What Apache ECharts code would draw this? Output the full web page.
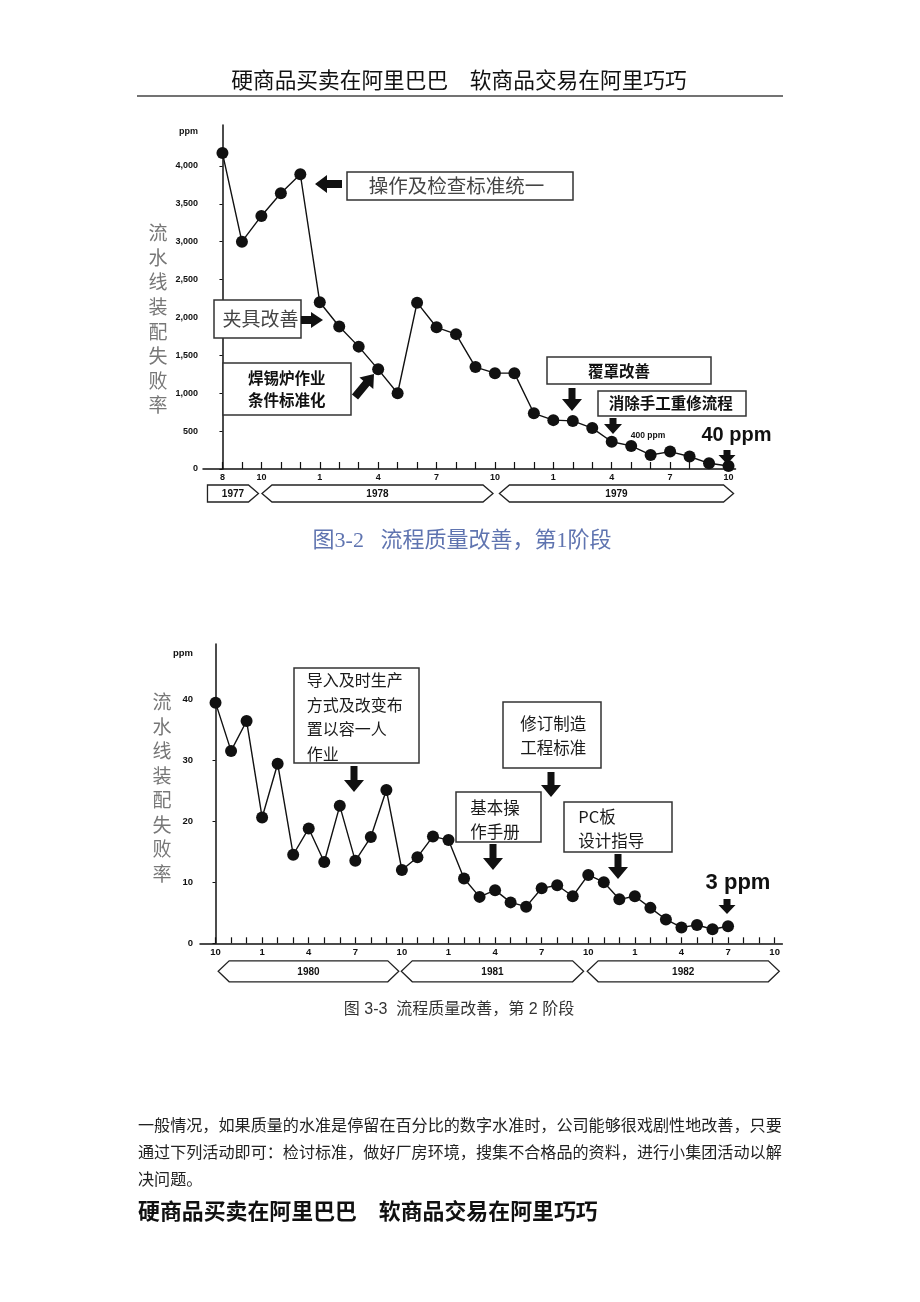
<!DOCTYPE html>
<html>
<head>
<meta charset="utf-8">
<script src="https://cdn.jsdelivr.net/npm/echarts@6/dist/echarts.min.js"></script>
<style>
html,body{margin:0;padding:0;background:#fff;}
#main{width:920px;height:1302px;}
</style>
</head>
<body>
<div id="main"></div>
<script>
// ---------- DATA ----------
const header = '硬商品买卖在阿里巴巴　软商品交易在阿里巧巧';
const yName = '流水线装配失败率';

// Chart 1 (Aug 1977 – Oct 1979, monthly)
const chart1Months = ['77-08','77-09','77-10','77-11','77-12','78-01','78-02','78-03','78-04','78-05','78-06','78-07','78-08','78-09','78-10','78-11','78-12','79-01','79-02','79-03','79-04','79-05','79-06','79-07','79-08','79-09','79-10'];
const chart1Values = [4170,3000,3340,3640,3890,2200,1880,1615,1315,1000,2195,1870,1780,1345,1265,1265,735,645,635,540,360,305,185,230,165,75,40];
const chart1TickLabels = ['8','','10','','','1','','','4','','','7','','','10','','','1','','','4','','','7','','','10'];
const chart1YTicks = [0,500,1000,1500,2000,2500,3000,3500,4000];
const chart1Years = ['1977','1978','1979'];
const chart1YearSpans = [[-0.77,1.85],[2.03,13.9],[14.23,26.26]];
const chart1Caption = '图3-2   流程质量改善，第1阶段';

// Chart 2 (Oct 1979 – Jul 1982, monthly)
const chart2Months = ['79-10','79-11','79-12','80-01','80-02','80-03','80-04','80-05','80-06','80-07','80-08','80-09','80-10','80-11','80-12','81-01','81-02','81-03','81-04','81-05','81-06','81-07','81-08','81-09','81-10','81-11','81-12','82-01','82-02','82-03','82-04','82-05','82-06','82-07'];
const chart2Values = [39.4,31.5,36.4,20.6,29.4,14.5,18.8,13.3,22.5,13.5,17.4,25.1,12.0,14.1,17.5,16.9,10.6,7.6,8.7,6.7,6.0,9.0,9.5,7.7,11.2,10.0,7.2,7.7,5.8,3.9,2.6,3.0,2.3,2.8];
const chart2TickLabels = ['10','','','1','','','4','','','7','','','10','','','1','','','4','','','7','','','10','','','1','','','4','','','7','','','10'];
const chart2YTicks = [0,10,20,30,40];
const chart2Years = ['1980','1981','1982'];
const chart2YearSpans = [[0.17,11.8],[11.96,23.7],[23.93,36.3]];
const chart2Caption = '图 3-3  流程质量改善，第 2 阶段';

const paragraph = [
  '一般情况，如果质量的水准是停留在百分比的数字水准时，公司能够很戏剧性地改善，只要',
  '通过下列活动即可：检讨标准，做好厂房环境，搜集不合格品的资料，进行小集团活动以解',
  '决问题。'
];

// ---------- HELPERS ----------
const CJK = '"Noto Sans CJK SC", "Noto Sans", sans-serif';
const LAT = '"Liberation Sans", Arial, sans-serif';
function fmtThousands(v){ return String(v).replace(/\B(?=(\d{3})+(?!\d))/g, ','); }

function arrowPts(fx, fy, tx, ty, sw, hw, hl){
  const dx = tx-fx, dy = ty-fy, L = Math.hypot(dx,dy);
  const ux = dx/L, uy = dy/L, px = -uy, py = ux;
  const bx = tx-ux*hl, by = ty-uy*hl;
  return [
    [fx+px*sw/2, fy+py*sw/2],[bx+px*sw/2, by+py*sw/2],[bx+px*hw/2, by+py*hw/2],
    [tx,ty],
    [bx-px*hw/2, by-py*hw/2],[bx-px*sw/2, by-py*sw/2],[fx-px*sw/2, fy-py*sw/2]
  ];
}
function arrow(fx,fy,tx,ty,sw,hw,hl){
  return {type:'polygon', shape:{points:arrowPts(fx,fy,tx,ty,sw,hw,hl)}, style:{fill:'#111'}, z:100};
}
function box(x,y,w,h){
  return {type:'rect', shape:{x:x,y:y,width:w,height:h}, style:{fill:'#fff', stroke:'#333', lineWidth:1.5}, z:90};
}
function txt(text,x,y,size,opts){
  opts = opts || {};
  return {type:'text', z:101, style:{
    text:text, x:x, y:y, fontSize:size, fontFamily:opts.family||CJK,
    fontWeight:opts.weight||'normal', fill:opts.color||'#222',
    align:opts.align||'center', verticalAlign:'middle', lineHeight:opts.lh||undefined
  }};
}

function bandSeries(gridIdx, years, spans, topOff, botOff, depth, flatFirst){
  return {
    type:'custom', xAxisIndex:gridIdx, yAxisIndex:gridIdx, clip:false, silent:true,
    data: spans.map(s => [s[0], s[1], 0]),
    encode:{x:[0,1], y:2},
    renderItem: function(params, api){
      const s = api.coord([api.value(0), 0]);
      const e = api.coord([api.value(1), 0]);
      const y0 = s[1]+topOff, y1 = s[1]+botOff, ym = (y0+y1)/2;
      const flat = flatFirst && params.dataIndex === 0;
      const pts = flat
        ? [[s[0],y0],[e[0]-depth,y0],[e[0],ym],[e[0]-depth,y1],[s[0],y1]]
        : [[s[0]+depth,y0],[e[0]-depth,y0],[e[0],ym],[e[0]-depth,y1],[s[0]+depth,y1],[s[0],ym]];
      return {type:'group', children:[
        {type:'polygon', shape:{points:pts}, style:{fill:'#fff', stroke:'#222', lineWidth:1.3}},
        {type:'text', style:{text:years[params.dataIndex], x:(s[0]+e[0])/2, y:ym+1,
          align:'center', verticalAlign:'middle', fontSize:10, fontWeight:'bold', fontFamily:LAT, fill:'#111'}}
      ]};
    }
  };
}

const axisCommon = {
  axisLine:{lineStyle:{color:'#111', width:1.5}},
  splitLine:{show:false}
};

// ---------- OPTION ----------
const option = {
  animation:false,
  backgroundColor:'#fff',
  grid:[
    {left:203, right:184.5, top:125, bottom:833},
    {left:200, right:137.6, top:644, bottom:358.7}
  ],
  xAxis:[
    Object.assign({}, axisCommon, {
      type:'value', gridIndex:0, min:-1, max:26.36,
      axisTick:{inside:true, length:7, lineStyle:{color:'#111', width:1.2}, customValues:chart1Months.map((m,i)=>i)},
      axisLabel:{customValues:chart1TickLabels.map((l,i)=>l?i:null).filter(v=>v!==null),
        formatter:v=>chart1TickLabels[v]||'', margin:4, fontSize:9, fontWeight:'bold', fontFamily:LAT, color:'#111'}
    }),
    Object.assign({}, axisCommon, {
      type:'value', gridIndex:1, min:-1, max:36.5,
      axisTick:{inside:true, length:6, lineStyle:{color:'#111', width:1.2}, customValues:chart2TickLabels.map((l,i)=>i)},
      axisLabel:{customValues:chart2TickLabels.map((l,i)=>l?i:null).filter(v=>v!==null),
        formatter:v=>chart2TickLabels[v]||'', margin:4.5, fontSize:9.5, fontWeight:'bold', fontFamily:LAT, color:'#111'}
    })
  ],
  yAxis:[
    Object.assign({}, axisCommon, {
      type:'value', gridIndex:0, min:0, max:4540,
      axisTick:{show:true, length:3, lineStyle:{color:'#111'}, customValues:chart1YTicks},
      axisLabel:{customValues:chart1YTicks.concat([4450]),
        formatter:v=> v===4450 ? 'ppm' : fmtThousands(v), margin:5, fontSize:9, fontWeight:'bold', fontFamily:LAT, color:'#111'}
    }),
    Object.assign({}, axisCommon, {
      type:'value', gridIndex:1, min:0, max:49,
      axisTick:{show:true, length:3, lineStyle:{color:'#111'}, customValues:chart2YTicks},
      axisLabel:{customValues:chart2YTicks.concat([47.5]),
        formatter:v=> v===47.5 ? 'ppm' : String(v), margin:7, fontSize:9.5, fontWeight:'bold', fontFamily:LAT, color:'#111'}
    })
  ],
  series:[
    {type:'line', xAxisIndex:0, yAxisIndex:0, data:chart1Values.map((v,i)=>[i,v]),
      symbol:'circle', symbolSize:12, itemStyle:{color:'#111'}, lineStyle:{color:'#111', width:1.4}, z:5},
    {type:'line', xAxisIndex:1, yAxisIndex:1, data:chart2Values.map((v,i)=>[i,v]),
      symbol:'circle', symbolSize:12, itemStyle:{color:'#111'}, lineStyle:{color:'#111', width:1.4}, z:5},
    bandSeries(0, chart1Years, chart1YearSpans, 16, 33, 10, true),
    bandSeries(1, chart2Years, chart2YearSpans, 17.5, 38.5, 11, false)
  ],
  graphic:[
    // header
    txt(header, 459, 80, 21.7, {color:'#111'}),
    {type:'line', shape:{x1:137,y1:96,x2:783,y2:96}, style:{stroke:'#444', lineWidth:1.5}},
    // y names
    txt(yName.split('').join('\n'), 158, 319, 19, {color:'#777', lh:24.6}),
    txt(yName.split('').join('\n'), 162, 788, 19, {color:'#777', lh:24.5}),

    // chart 1 annotations
    box(347,172,226,28), txt('操作及检查标准统一', 456.5, 186, 19.5, {color:'#444'}),
    arrow(342,184, 315,184, 8,18,12),
    box(214,300,87,38), txt('夹具改善', 260.5, 318.5, 19, {color:'#444'}),
    arrow(301,320, 323,320, 8,16,12),
    box(223,363,128,52), txt('焊锡炉作业\n条件标准化', 286.7, 389, 15.5, {weight:'bold', color:'#111', lh:21.5}),
    arrow(355,397, 374,374, 8,18,12),
    box(547,357,164,27), txt('覆罩改善', 619, 371.5, 15.5, {weight:'bold', color:'#111'}),
    arrow(572,388, 572,411, 7,20,12),
    box(598,391,148,25), txt('消除手工重修流程', 670.8, 403.5, 15.5, {weight:'bold', color:'#111'}),
    arrow(613,418, 613,434, 7,18,10),
    txt('400 ppm', 648, 436, 8.5, {family:LAT, weight:'bold', color:'#111'}),
    txt('40 ppm', 736.5, 435, 20, {family:LAT, weight:'bold', color:'#111'}),
    arrow(727,450, 727,464, 7,17,9),

    txt(chart1Caption, 462, 541, 22, {family:'"Liberation Serif", "Noto Sans CJK SC", serif', color:'#5f74b0'}),

    // chart 2 annotations
    box(294,668,125,95), txt('导入及时生产\n方式及改变布\n置以容一人\n作业', 306.7, 717, 16, {align:'left', color:'#1a1a1a', lh:24.8}),
    arrow(354,766, 354,792, 7,20,12),
    box(503,702,98,66), txt('修订制造\n工程标准', 553.3, 736, 16.5, {color:'#1a1a1a', lh:24}),
    arrow(551,772, 551,797, 7,20,12),
    box(456,792,85,50), txt('基本操\n作手册', 495, 819.5, 16.5, {color:'#1a1a1a', lh:24}),
    arrow(493,844, 493,870, 7,20,12),
    box(564,802,108,50), txt('PC板\n设计指导', 578.3, 828.5, 16.5, {align:'left', color:'#1a1a1a', lh:23.5}),
    arrow(618,854, 618,879, 7,20,12),
    txt('3 ppm', 738, 883, 22, {family:LAT, weight:'bold', color:'#111'}),
    arrow(727,899, 727,914, 7,17,9),

    txt(chart2Caption, 459, 1010, 16, {family:'"Liberation Sans", "Noto Sans CJK SC", sans-serif', color:'#333'}),

    // paragraph
    txt(paragraph[0], 138, 1125, 16.1, {align:'left', color:'#222'}),
    txt(paragraph[1], 138, 1152, 16.1, {align:'left', color:'#222'}),
    txt(paragraph[2], 138, 1179, 16.1, {align:'left', color:'#222'}),
    // footer
    txt(header, 138, 1211, 21.9, {align:'left', weight:'bold', color:'#111'})
  ]
};

const chart = echarts.init(document.getElementById('main'), null, {renderer:'canvas'});
chart.setOption(option);
</script>
</body>
</html>
